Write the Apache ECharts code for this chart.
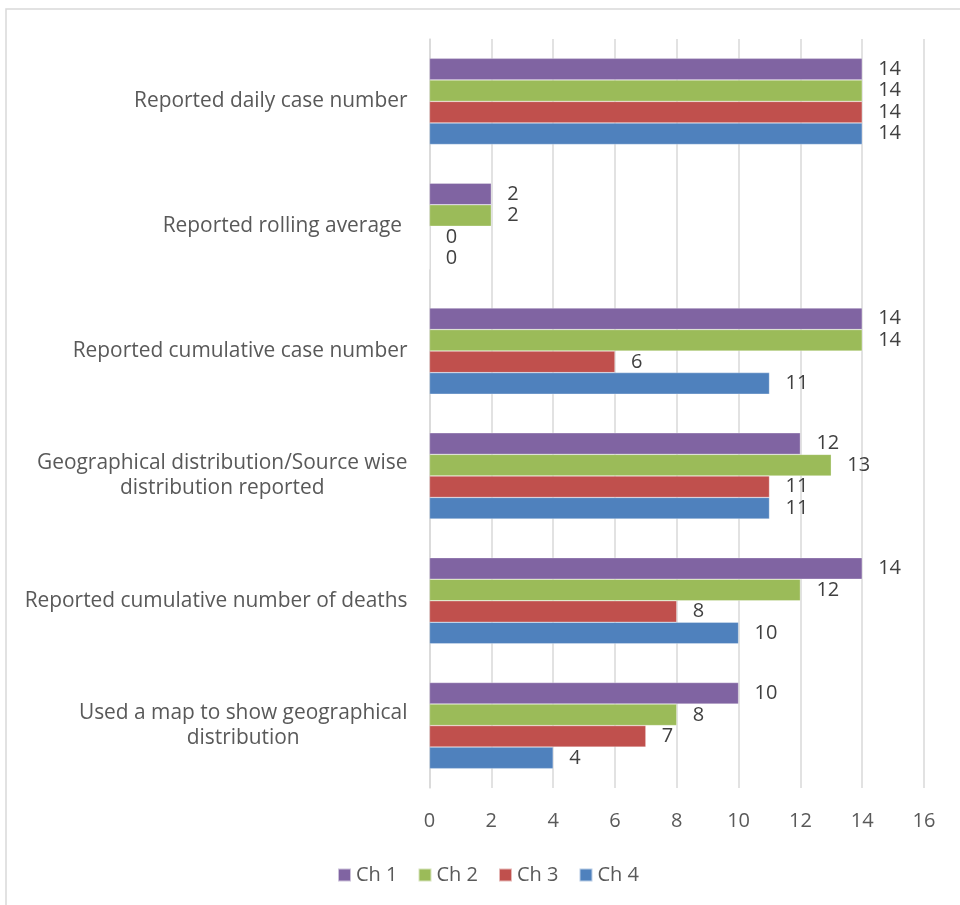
<!DOCTYPE html>
<html>
<head>
<meta charset="utf-8">
<script src="https://cdn.jsdelivr.net/npm/echarts@6/dist/echarts.min.js"></script>
<style>
  html, body { margin: 0; padding: 0; background: #fff; }
  #chart { width: 960px; height: 905px; }
</style>
</head>
<body>
<div id="chart"></div>
<script>
// Reporting practices by channel
const categories = [
  'Reported daily case number',
  'Reported rolling average ',
  'Reported cumulative case number',
  'Geographical distribution/Source wise\ndistribution reported',
  'Reported cumulative number of deaths',
  'Used a map to show geographical\ndistribution'
];
const seriesNames = ['Ch 1', 'Ch 2', 'Ch 3', 'Ch 4'];
const ch1 = [14, 2, 14, 12, 14, 10];
const ch2 = [14, 2, 14, 13, 12, 8];
const ch3 = [14, 0, 6, 11, 8, 7];
const ch4 = [14, 0, 11, 11, 10, 4];
const xTicks = [0, 2, 4, 6, 8, 10, 12, 14, 16];

const colors = ['#8064A2', '#9BBB59', '#C0504D', '#4F81BD'];
const values = [ch1, ch2, ch3, ch4];
const FONT = 'Open Sans';
const FS = 20.9;

const chart = echarts.init(document.getElementById('chart'), null, { renderer: 'canvas' });

chart.setOption({
  animation: false,
  color: colors,
  graphic: [{
    type: 'rect',
    shape: { x: 6, y: 9, width: 1200, height: 1200 },
    style: { fill: 'none', stroke: '#D9D9D9', lineWidth: 1.5 },
    silent: true
  }],
  grid: { left: 429.5, right: 36, top: 39, bottom: 117 },
  legend: {
    data: seriesNames,
    left: 332,
    top: 860,
    itemWidth: 13,
    itemHeight: 13,
    itemGap: 20,
    icon: 'rect',
    textStyle: { fontFamily: FONT, fontSize: 20, color: '#595959' }
  },
  xAxis: {
    type: 'value',
    min: xTicks[0],
    max: xTicks[xTicks.length - 1],
    interval: 2,
    axisLine: { show: false },
    axisTick: { show: false },
    splitLine: { lineStyle: { color: '#D9D9D9', width: 1.5 } },
    axisLabel: { fontFamily: FONT, fontSize: 20, color: '#595959', margin: 23 }
  },
  yAxis: {
    type: 'category',
    inverse: true,
    data: categories,
    axisLine: { show: true, lineStyle: { color: '#D9D9D9', width: 1.5 } },
    axisTick: { show: false },
    axisLabel: {
      margin: 22,
      fontFamily: FONT,
      fontSize: FS,
      color: '#595959',
      lineHeight: 25,
      formatter: (v) => v.split('\n').map(s => '{c|' + s + '}').join('\n'),
      rich: { c: { align: 'center', fontFamily: FONT, fontSize: FS, color: '#595959', lineHeight: 25 } }
    }
  },
  series: seriesNames.map((name, i) => ({
    name: name,
    type: 'bar',
    data: values[i],
    barGap: '0%',
    barCategoryGap: '31%',
    itemStyle: { color: colors[i], borderColor: 'rgba(255,255,255,0.6)', borderWidth: 0.5 },
    label: {
      show: true,
      position: 'right',
      distance: 16,
      fontFamily: FONT,
      fontSize: 20,
      color: '#404040'
    }
  }))
});
</script>
</body>
</html>
